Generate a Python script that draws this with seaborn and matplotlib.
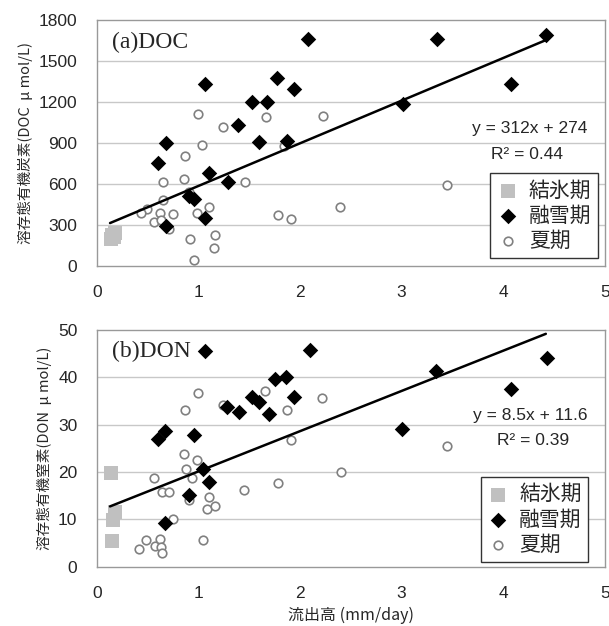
import matplotlib
matplotlib.use("Agg")
import matplotlib.pyplot as plt
import seaborn as sns
import pandas as pd

# (a) DOC
doc_ice_x = [0.14, 0.15, 0.17, 0.18]
doc_ice_y = [200, 230, 210, 240]
doc_melt_x = [2.08, 1.06, 1.77, 1.94, 1.53, 1.68, 1.39, 0.68, 1.60, 1.87, 0.60,
              1.10, 1.29, 0.91, 0.96, 1.06, 0.68, 3.35, 4.42, 4.08, 3.01]
doc_melt_y = [1660, 1332, 1378, 1297, 1198, 1198, 1032, 898, 910, 917, 751,
              683, 615, 512, 493, 349, 295, 1663, 1688, 1334, 1183]
doc_sum_x = [1.00, 1.67, 2.23, 1.24, 1.04, 1.84, 0.87, 0.65, 0.86, 1.46, 0.65,
             0.49, 0.43, 0.62, 0.75, 0.99, 1.10, 0.56, 0.63, 0.71, 0.92, 1.16,
             1.15, 0.96, 1.78, 1.91, 0.91, 3.45, 2.39]
doc_sum_y = [1112, 1088, 1098, 1015, 885, 880, 805, 612, 637, 612, 483,
             415, 385, 385, 378, 385, 429, 324, 337, 271, 195, 227,
             132, 44, 376, 346, 544, 595, 429]

# (b) DON
don_ice_x = [0.14, 0.16, 0.18, 0.15]
don_ice_y = [19.7, 9.9, 11.6, 5.5]
don_melt_x = [1.06, 2.10, 1.75, 1.86, 1.94, 1.53, 1.60, 1.28, 1.40, 1.69, 0.67,
              0.60, 0.96, 1.05, 1.10, 0.91, 0.67, 3.34, 4.43, 4.08, 3.00]
don_melt_y = [45.6, 45.8, 39.6, 40.1, 35.9, 35.8, 34.7, 33.7, 32.6, 32.2, 28.7,
              26.9, 27.7, 20.6, 17.9, 15.1, 9.2, 41.3, 44.0, 37.5, 29.0]
don_sum_x = [1.00, 1.66, 2.22, 0.87, 1.24, 1.87, 1.91, 0.86, 0.99, 0.88, 0.94,
             0.56, 0.64, 0.71, 1.45, 1.78, 1.10, 0.91, 1.08, 1.16, 0.75, 0.48,
             0.42, 0.57, 0.62, 0.63, 0.64, 1.05, 2.40, 3.45]
don_sum_y = [36.6, 37.1, 35.6, 33.1, 34.2, 33.1, 26.8, 23.8, 22.5, 20.6, 18.7,
             18.7, 15.7, 15.8, 16.2, 17.7, 14.7, 14.1, 12.1, 12.7, 10.1, 5.6,
             3.7, 4.4, 5.9, 4.1, 2.8, 5.6, 19.9, 25.5]

seasons = ["結氷期", "融雪期", "夏期"]
doc_fit = (312, 274, 0.44)
don_fit = (8.5, 11.6, 0.39)
fit_range = [0.13, 4.42]

jp_font = ["Noto Sans CJK JP", "DejaVu Sans"]
num_font = ["Liberation Sans", "Noto Sans CJK JP"]

sns.set_style("white")
plt.rcParams["font.family"] = jp_font


def make_df(ice_x, ice_y, melt_x, melt_y, sum_x, sum_y):
    parts = []
    for name, xs, ys in zip(seasons, [ice_x, melt_x, sum_x], [ice_y, melt_y, sum_y]):
        parts.append(pd.DataFrame({"flow": xs, "conc": ys, "season": name}))
    return pd.concat(parts, ignore_index=True)


def draw_panel(ax, df, fit, yticks, title, ylabel, eq_pos, r2_pos, leg_anchor):
    summer = df[df["season"] == "夏期"]
    ice = df[df["season"] == "結氷期"]
    melt = df[df["season"] == "融雪期"]
    sns.scatterplot(data=summer, x="flow", y="conc", ax=ax, marker="o", s=38,
                    facecolor="white", edgecolor="#808080", linewidth=1.2,
                    label="夏期", zorder=3)
    sns.scatterplot(data=ice, x="flow", y="conc", ax=ax, marker="s", s=95,
                    color="#c0c0c0", edgecolor="#c0c0c0", linewidth=0,
                    label="結氷期", zorder=3)
    sns.scatterplot(data=melt, x="flow", y="conc", ax=ax, marker="D", s=62,
                    color="black", edgecolor="black", linewidth=0,
                    label="融雪期", zorder=4)
    slope, inter, r2 = fit
    fy = [slope * v + inter for v in fit_range]
    sns.lineplot(x=fit_range, y=fy, ax=ax, color="black", linewidth=1.8, zorder=5)

    ax.set_xlim(0, 5)
    ax.set_ylim(yticks[0], yticks[-1])
    ax.set_xticks(range(6))
    ax.set_yticks(yticks)
    for y in yticks[1:-1]:
        ax.axhline(y, color="#c8c8c8", linewidth=1, zorder=1)
    ax.tick_params(direction="in", length=5, color="#999999", labelsize=12.5,
                   pad=14)
    for lab in ax.get_xticklabels() + ax.get_yticklabels():
        lab.set_family(num_font)
    for sp in ax.spines.values():
        sp.set_color("#999999")
        sp.set_linewidth(1)
    ax.set_xlabel("")
    ax.set_ylabel(ylabel, fontsize=10.5, labelpad=4)

    ax.text(0.03, 0.91, title, transform=ax.transAxes, family="Liberation Serif",
            fontsize=17, va="center", ha="left")
    if slope >= 100:
        eq = f"y = {slope:g}x + {inter:g}"
    else:
        eq = f"y = {slope:.1f}x + {inter:.1f}"
    ax.text(eq_pos[0], eq_pos[1], eq, transform=ax.transAxes, family=num_font,
            fontsize=12.5, ha="right", va="center")
    ax.text(r2_pos[0], r2_pos[1], f"R² = {r2:.2f}", transform=ax.transAxes,
            family=num_font, fontsize=12.5, ha="center", va="center")

    handles, labels = ax.get_legend_handles_labels()
    order = [labels.index(s) for s in seasons]
    leg = ax.legend([handles[i] for i in order], [labels[i] for i in order],
                    loc="lower right", bbox_to_anchor=leg_anchor, fontsize=15,
                    frameon=True, fancybox=False, edgecolor="#333333",
                    framealpha=1, borderpad=0.3, labelspacing=0.15,
                    handletextpad=0.45, handlelength=1.1, borderaxespad=0)
    leg.get_frame().set_linewidth(1)


fig = plt.figure(figsize=(6.09, 6.26), dpi=100)
ax1 = fig.add_axes([0.159, 0.575, 0.834, 0.393])
ax2 = fig.add_axes([0.159, 0.095, 0.834, 0.378])

df_doc = make_df(doc_ice_x, doc_ice_y, doc_melt_x, doc_melt_y, doc_sum_x, doc_sum_y)
df_don = make_df(don_ice_x, don_ice_y, don_melt_x, don_melt_y, don_sum_x, don_sum_y)

draw_panel(ax1, df_doc, doc_fit, [0, 300, 600, 900, 1200, 1500, 1800], "(a)DOC",
           "溶存態有機炭素(DOC  μ mol/L)", (0.965, 0.561), (0.846, 0.455),
           (0.986, 0.033))
draw_panel(ax2, df_don, don_fit, [0, 10, 20, 30, 40, 50], "(b)DON",
           "溶存態有機窒素(DON  μ mol/L)", (0.967, 0.637), (0.858, 0.531),
           (0.967, 0.02))
ax2.set_xlabel("流出高 (mm/day)", fontsize=11.5, labelpad=4)

fig.savefig("out.png", dpi=100)
